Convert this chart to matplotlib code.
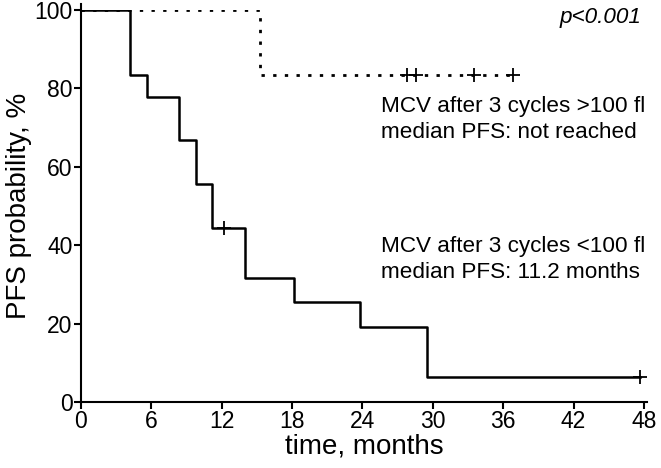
import matplotlib
matplotlib.use("Agg")
import matplotlib.pyplot as plt

plt.rcParams['font.family'] = ['Liberation Sans', 'DejaVu Sans']

# Low MCV group (<100 fl)
low_times = [0, 4.2, 5.6, 8.4, 9.8, 11.2, 14.0, 18.2, 23.8, 29.5, 47.7]
low_surv = [100, 83.3, 77.8, 66.7, 55.6, 44.4, 31.7, 25.4, 19.0, 6.3, 6.3]
low_cens_t = [12.2, 47.7]
low_cens_s = [44.4, 6.3]

# High MCV group (>100 fl)
high_times = [0, 15.3, 36.8]
high_surv = [100, 83.3, 83.3]
high_cens_t = [27.8, 28.6, 33.5, 36.8]
high_cens_s = [83.3, 83.3, 83.3, 83.3]

xticks = [0, 6, 12, 18, 24, 30, 36, 42, 48]
yticks = [0, 20, 40, 60, 80, 100]

fig = plt.figure(figsize=(6.61, 4.68), dpi=100)
ax = fig.add_axes([0.1225, 0.141, 0.857, 0.838])

ax.step(low_times, low_surv, where='post', color='black', lw=1.8)
ax.plot(low_cens_t, low_cens_s, linestyle='none', marker='+', color='black',
        markersize=10, markeredgewidth=1.3)
ax.step(high_times, high_surv, where='post', color='black', lw=2,
        linestyle=(0, (1.2, 3)))
ax.plot(high_cens_t, high_cens_s, linestyle='none', marker='+', color='black',
        markersize=10, markeredgewidth=1.3)

ax.set_xlim(0, 48.3)
ax.set_ylim(0, 100)
ax.set_xticks(xticks)
ax.set_yticks(yticks)
ax.spines['top'].set_visible(False)
ax.spines['right'].set_visible(False)
ax.spines['left'].set_linewidth(1.5)
ax.spines['bottom'].set_linewidth(1.5)
ax.spines['left'].set_bounds(0, 101.5)
ax.tick_params(direction='out', length=5, width=1.5, labelsize=16.5, pad=1)
for sp in ['left', 'bottom']:
    ax.spines[sp].set_clip_on(False)

ax.set_xlabel('time, months', fontsize=20, labelpad=0)
ax.set_ylabel('PFS probability, %', fontsize=20, labelpad=2)

fs = 16.2
ax.text(47.75, 96.7, 'p<0.001', style='italic', fontsize=fs, ha='right', va='baseline')
ax.text(25.6, 74.0, 'MCV after 3 cycles >100 fl', fontsize=fs, ha='left', va='baseline')
ax.text(25.6, 67.2, 'median PFS: not reached', fontsize=fs, ha='left', va='baseline')
ax.text(25.6, 38.3, 'MCV after 3 cycles <100 fl', fontsize=fs, ha='left', va='baseline')
ax.text(25.6, 31.5, 'median PFS: 11.2 months', fontsize=fs, ha='left', va='baseline')

fig.savefig('out.png', dpi=100)
